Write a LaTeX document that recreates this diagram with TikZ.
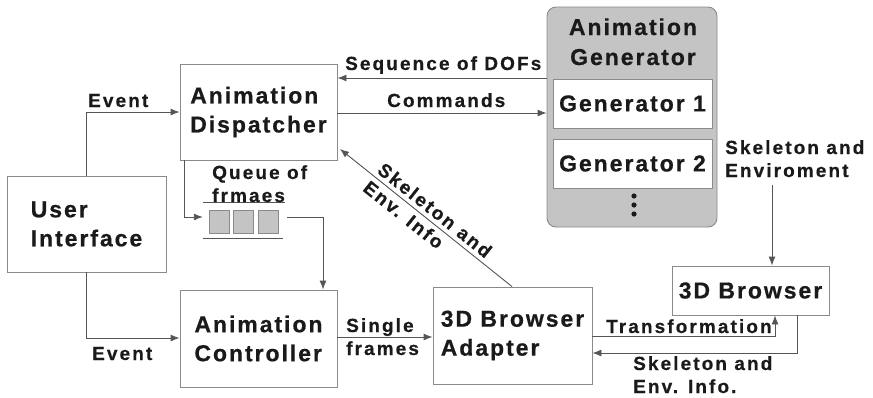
\documentclass[tikz,border=0pt]{standalone}
\usepackage{fontspec}
\setmainfont{Liberation Sans}
\newfontfamily\boxff{Liberation Sans}[LetterSpace=8.5,FakeBold=0.6]
\newfontfamily\labff{Liberation Sans}[LetterSpace=11,FakeBold=0.5]
\usetikzlibrary{arrows.meta,calc}
\definecolor{txt}{HTML}{1A1A1A}
\definecolor{edge}{HTML}{8A8A8A}
\definecolor{wire}{HTML}{555555}
\definecolor{gfill}{HTML}{C4C4C4}
\tikzset{
  blk/.style={draw=edge, line width=0.9pt, fill=white, inner sep=0pt, align=left,
    text=txt, font=\boxff\bfseries\fontsize{23}{29}\selectfont},
  lab/.style={inner sep=0pt, align=left, text=txt,
    font=\labff\bfseries\fontsize{19}{23}\selectfont},
  arr/.style={draw=wire, line width=0.9pt, -{Latex[length=9pt,width=7pt]}},
  wr/.style={draw=wire, line width=0.9pt},
}
\begin{document}
\begin{tikzpicture}[x=1pt,y=-1pt]
\useasboundingbox (0,0) rectangle (873,397);
% boxes
\node[blk, minimum width=159, minimum height=96] (ui) at (86.5,224) {User\\Interface};
\node[blk, minimum width=157, minimum height=96] (disp) at (258.5,112) {Animation\\Dispatcher};
\node[blk, minimum width=157, minimum height=97] (ctrl) at (258.5,338.5) {Animation\\Controller};
\node[blk, minimum width=159, minimum height=97] (adapt) at (512.5,335.5) {3D Browser\\Adapter};
\node[blk, minimum width=157, minimum height=49] (brow) at (750.5,290.5) {3D Browser};
% generator
\node[draw=edge, line width=0.9pt, fill=gfill, rounded corners=9pt, minimum width=170, minimum height=220, inner sep=0pt] (gen) at (632,117) {};
\node[inner sep=0pt, align=center, text=txt, font=\boxff\bfseries\fontsize{23}{30}\selectfont, anchor=base] (gtitle) at (633,65) {Animation\\Generator};
\node[blk, minimum width=159, minimum height=49] (g1) at (632.5,103.5) {Generator 1};
\node[blk, minimum width=159, minimum height=49] (g2) at (632.5,163.5) {Generator 2};
\foreach \yy/\nm in {196/da,205/db,214/dc} \fill[txt] (634,\yy) circle (2.6pt) coordinate (\nm);
% queue
\node[inner sep=0pt, minimum width=82, minimum height=35] (queue) at (244,220.5) {};
\draw[wr] (queue.north west) -- (queue.north east);
\draw[wr] (queue.south west) -- ($(queue.south east)+(-2,0)$);
\foreach \xx/\nm in {219/q1,243.5/q2,268/q3}
  \node[draw=edge, line width=0.8pt, fill=gfill, minimum width=20, minimum height=23, inner sep=0pt] (\nm) at (\xx,221.5) {};
\node[lab, anchor=base west] (qlab) at (212,202) {Queue of\\frmaes};
% connectors
\draw[arr] (gen.west |- 0,78) -- (disp.east |- 0,78);
\node[lab, anchor=base west] (lseq) at (345,70) {Sequence of DOFs};
\draw[arr] (disp.east |- 0,113) -- (gen.west |- 0,113);
\node[lab, anchor=base west] (lcmd) at (387,107) {Commands};
\draw[arr] (ui.north) |- (disp.west |- 0,112);
\node[lab, anchor=base west] (lev1) at (88,107) {Event};
\draw[arr] (ui.south) |- (ctrl.west |- 0,338);
\node[lab, anchor=base west] (lev2) at (92,360) {Event};
\draw[arr] (disp.south -| 184,0) |- (queue.west |- 0,217);
\draw[arr] ($(queue.east |- 0,217)+(2,0)$) -| (ctrl.north -| 323,0);
\draw[arr] (ctrl.east |- 0,337) -- (adapt.west |- 0,337);
\node[lab, anchor=base west] (lsf) at (346,355) {Single\\frames};
\coordinate (dtip) at (340,149);
\draw[arr] (adapt.north -| 512,0) -- (dtip)
  node[lab, pos=0.49, rotate=-38.5, align=left] (ldiag) {Skeleton and\\Env. Info};
\coordinate (envtop) at (772,185);
\draw[arr] (envtop) -- (brow.north -| envtop);
\node[lab, anchor=base west] (lenv) at (725,177) {Skeleton and\\Enviroment};
\draw[arr] (adapt.east |- 0,336) -| (brow.south -| 775,0);
\node[lab, anchor=base west] (ltr) at (606,333) {Transformation};
\draw[arr] (brow.south -| 797,0) |- (adapt.east |- 0,353);
\node[lab, anchor=base west] (lsk) at (633,393) {Skeleton and\\Env. Info.};
\end{tikzpicture}
\end{document}
